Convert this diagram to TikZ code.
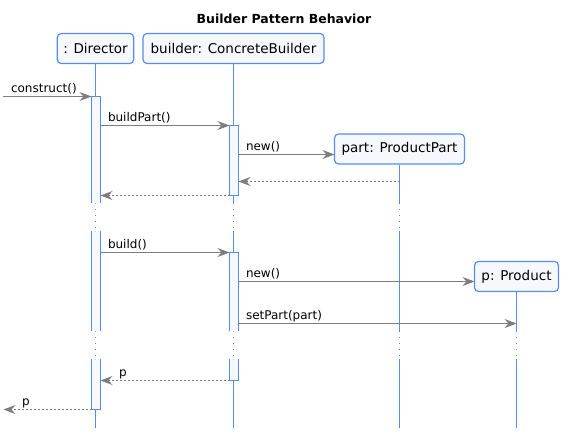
\documentclass[tikz,border=0pt]{standalone}
\usepackage{fontspec}
\setmainfont{DejaVu Sans}
\usepackage{xcolor}
\usepackage{tikz}
\usetikzlibrary{arrows.meta,positioning}
\definecolor{lifeblue}{RGB}{84,142,242}
\definecolor{headfill}{RGB}{246,248,254}
\definecolor{msggray}{RGB}{125,125,125}

\begin{document}
\begin{tikzpicture}
[x=1pt,y=-1pt,
 head/.style={shape=rectangle,rounded corners=4pt,draw=lifeblue,line width=1.2pt,
	fill=headfill,inner xsep=6pt,minimum height=30pt,font=\fontsize{13.5}{16}\selectfont},
 life/.style={draw=lifeblue,line width=1pt},
 gap/.style={draw=lifeblue,line width=1pt,dash pattern=on 1pt off 5pt},
 msg/.style={draw=msggray,line width=1pt,-{Stealth[length=12pt,width=9pt,inset=4pt]}},
 reply/.style={msg,dash pattern=on 2pt off 2pt},
 lbl/.style={anchor=base west,inner sep=0pt,font=\fontsize{12}{14}\selectfont}]
\useasboundingbox (-0.5,-0.5) rectangle (567.5,437.5);
\node[font=\bfseries\fontsize{12.5}{15}\selectfont] (title) at (283.5,18) {Builder Pattern Behavior};
%% lifeline heads
\node[head,minimum width=76pt] (dir) at (95,48) {: Director};
\node[head,minimum width=181pt] (bld) at (233,48) {builder: ConcreteBuilder};
\node[head,minimum width=130pt] (part) at (399,148.5) {part: ProductPart};
\node[head,minimum width=84pt] (prod) at (516,276) {p: Product};
%% lifelines
\foreach \n/\x in {dir/95,bld/233,part/399}
{
	\draw[life] (\n.south) -- (\x,203);
	\draw[gap] (\x,203) -- (\x,231);
	\draw[life] (\x,231) -- (\x,331);
	\draw[gap] (\x,331) -- (\x,359);
	\draw[life] (\x,359) -- (\x,428);
}
\draw[life] (prod.south) -- (516,331);
\draw[gap] (516,331) -- (516,359);
\draw[life] (516,359) -- (516,428);
%% activations
\fill[headfill] (91,96) rectangle (100,203) (91,231) rectangle (100,331) (91,359) rectangle (100,409);
\draw[life] (91,203) -- (91,96) -- (100,96) -- (100,203)
	(91,231) -- (91,331) (100,231) -- (100,331)
	(91,359) -- (91,409) -- (100,409) -- (100,359);
\fill[headfill] (229,125) rectangle (238,195) (229,252) rectangle (238,331) (229,359) rectangle (238,380);
\draw[life] (229,125) rectangle (238,195)
	(229,331) -- (229,252) -- (238,252) -- (238,331)
	(229,359) -- (229,380) -- (238,380) -- (238,359);
%% message ends
\coordinate (in) at (3,96);
\coordinate (dirA) at (91,96);
\coordinate (dirB) at (100,125);
\coordinate (bldA) at (229,125);
\coordinate (bldB) at (238,154);
\coordinate (partIn) at (334,154);
\coordinate (partOut) at (399,181);
\coordinate (bldC) at (238,181);
\coordinate (bldD) at (229,195);
\coordinate (dirC) at (100,195);
\coordinate (dirD) at (100,252);
\coordinate (bldE) at (229,252);
\coordinate (bldF) at (238,281);
\coordinate (prodIn) at (474,281);
\coordinate (bldG) at (238,323);
\coordinate (prodSet) at (516,323);
\coordinate (bldH) at (229,380);
\coordinate (dirE) at (100,380);
\coordinate (dirF) at (91,409);
\coordinate (out) at (3,409);
%% calls
\path
\foreach \startNode/\endNode/\txt in {in/dirA/construct(),dirB/bldA/buildPart(),
	bldB/partIn/new(),dirD/bldE/build(),bldF/prodIn/new(),bldG/prodSet/setPart(part)}
{
	(\startNode) edge[msg] node[lbl,pos=0,xshift=7pt,yshift=4pt] {\txt} (\endNode)
};
%% replies
\path
\foreach \startNode/\endNode/\txt in {partOut/bldC/,bldD/dirC/,bldH/dirE/p,dirF/out/p}
{
	(\startNode) edge[reply] node[lbl,pos=1,xshift=18pt,yshift=4pt] {\txt} (\endNode)
};
\end{tikzpicture}
\end{document}
